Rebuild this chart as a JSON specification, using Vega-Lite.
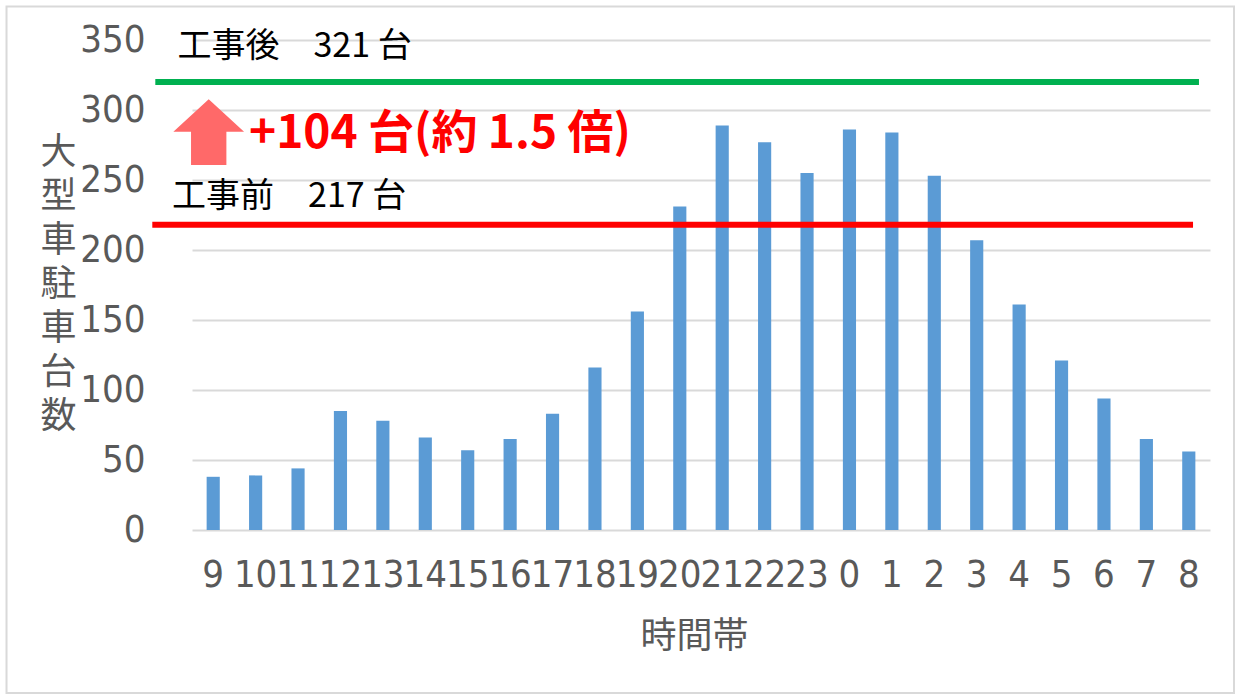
{
  "$schema": "https://vega.github.io/schema/vega-lite/v6.json",
  "width": 1018,
  "height": 490,
  "autosize": {"type": "none"},
  "padding": {"left": 192, "top": 40, "right": 33, "bottom": 170},
  "background": "#FFFFFF",
  "config": {"view": {"stroke": null}},
  "datasets": {
    "bars": [
      {"hour": "9", "count": 38},
      {"hour": "10", "count": 39},
      {"hour": "11", "count": 44},
      {"hour": "12", "count": 85},
      {"hour": "13", "count": 78},
      {"hour": "14", "count": 66},
      {"hour": "15", "count": 57},
      {"hour": "16", "count": 65},
      {"hour": "17", "count": 83},
      {"hour": "18", "count": 116},
      {"hour": "19", "count": 156},
      {"hour": "20", "count": 231},
      {"hour": "21", "count": 289},
      {"hour": "22", "count": 277},
      {"hour": "23", "count": 255},
      {"hour": "0", "count": 286},
      {"hour": "1", "count": 284},
      {"hour": "2", "count": 253},
      {"hour": "3", "count": 207},
      {"hour": "4", "count": 161},
      {"hour": "5", "count": 121},
      {"hour": "6", "count": 94},
      {"hour": "7", "count": 65},
      {"hour": "8", "count": 56}
    ],
    "levels": [
      {"period": "工事後", "value": 320, "from": -1.365, "to": 23.24},
      {"period": "工事前", "value": 218, "from": -1.436, "to": 23.1}
    ],
    "notes": [
      {"text": "工事後　321 台", "slot": -0.842, "value": 345},
      {"text": "工事前　217 台", "slot": -0.971, "value": 238}
    ],
    "change": [
      {"text": "+104 台(約 1.5 倍)", "slot": 0.844, "value": 283}
    ],
    "arrow": [
      {"slot": -0.106, "value": 284.2}
    ],
    "frame": [
      {"from": -4.873, "to": 24.066, "top": 374, "bottom": -116.4}
    ]
  },
  "layer": [
    {
      "data": {"name": "frame"},
      "mark": {"type": "rect", "fill": null, "stroke": "#D9D9D9", "strokeWidth": 2},
      "encoding": {
        "x": {"field": "from", "type": "quantitative", "scale": {"domain": [-0.5, 23.5], "nice": false, "zero": false}, "axis": null},
        "x2": {"field": "to"},
        "y": {"field": "top", "type": "quantitative", "scale": {"domain": [0, 350], "nice": false}, "axis": null},
        "y2": {"field": "bottom"}
      }
    },
    {
      "data": {"name": "bars"},
      "mark": {"type": "bar", "color": "#5B9BD5"},
      "encoding": {
        "x": {
          "field": "hour",
          "type": "ordinal",
          "sort": null,
          "scale": {"paddingInner": 0.69, "paddingOuter": 0.345},
          "axis": {
            "title": "時間帯",
            "labelAngle": 0,
            "ticks": false,
            "domain": false,
            "labelOverlap": false,
            "labelBound": false,
            "labelFlush": false,
            "labelFont": "DejaVu Sans Condensed",
            "labelFontSize": 38,
            "labelColor": "#595959",
            "labelBaseline": "middle",
            "labelPadding": 45,
            "titleFont": "Noto Sans CJK JP",
            "titleFontSize": 36,
            "titleFontWeight": "normal",
            "titleColor": "#595959",
            "titleX": 502,
            "titleY": 106,
            "titleAlign": "center",
            "titleBaseline": "middle"
          }
        },
        "y": {
          "field": "count",
          "type": "quantitative",
          "scale": {"domain": [0, 350], "nice": false},
          "axis": {
            "title": ["大", "型", "車", "駐", "車", "台", "数"],
            "titleAngle": 0,
            "values": [0, 50, 100, 150, 200, 250, 300, 350],
            "grid": true,
            "gridColor": "#D9D9D9",
            "gridWidth": 2,
            "domain": false,
            "ticks": false,
            "labelFont": "DejaVu Sans Condensed",
            "labelFontSize": 38,
            "labelColor": "#595959",
            "labelPadding": 47,
            "titleFont": "Noto Sans CJK JP",
            "titleFontSize": 36,
            "titleFontWeight": "normal",
            "titleColor": "#595959",
            "titleLineHeight": 44,
            "titleX": -134,
            "titleY": 112,
            "titleAlign": "center",
            "titleBaseline": "middle"
          }
        }
      }
    },
    {
      "data": {"name": "levels"},
      "mark": {"type": "rule", "strokeWidth": 6},
      "encoding": {
        "x": {"field": "from", "type": "quantitative", "scale": {"domain": [-0.5, 23.5], "nice": false, "zero": false}, "axis": null},
        "x2": {"field": "to"},
        "y": {"field": "value", "type": "quantitative", "scale": {"domain": [0, 350], "nice": false}, "axis": null},
        "color": {"field": "period", "type": "nominal", "scale": {"domain": ["工事後", "工事前"], "range": ["#00B050", "#FF0000"]}, "legend": null}
      }
    },
    {
      "data": {"name": "arrow"},
      "mark": {
        "type": "point",
        "shape": "M0,-0.93L1,-0.013L0.5,-0.013L0.5,0.93L-0.5,0.93L-0.5,-0.013L-1,-0.013Z",
        "size": 5000,
        "filled": true,
        "color": "#FF6969",
        "opacity": 1
      },
      "encoding": {
        "x": {"field": "slot", "type": "quantitative", "scale": {"domain": [-0.5, 23.5], "nice": false, "zero": false}, "axis": null},
        "y": {"field": "value", "type": "quantitative", "scale": {"domain": [0, 350], "nice": false}, "axis": null}
      }
    },
    {
      "data": {"name": "notes"},
      "mark": {"type": "text", "align": "left", "baseline": "middle", "font": "Noto Sans CJK JP", "fontSize": 34, "color": "#000000"},
      "encoding": {
        "x": {"field": "slot", "type": "quantitative", "scale": {"domain": [-0.5, 23.5], "nice": false, "zero": false}, "axis": null},
        "y": {"field": "value", "type": "quantitative", "scale": {"domain": [0, 350], "nice": false}, "axis": null},
        "text": {"field": "text"}
      }
    },
    {
      "data": {"name": "change"},
      "mark": {"type": "text", "align": "left", "baseline": "middle", "font": "Noto Sans CJK JP", "fontSize": 46, "fontWeight": "bold", "color": "#FF0000"},
      "encoding": {
        "x": {"field": "slot", "type": "quantitative", "scale": {"domain": [-0.5, 23.5], "nice": false, "zero": false}, "axis": null},
        "y": {"field": "value", "type": "quantitative", "scale": {"domain": [0, 350], "nice": false}, "axis": null},
        "text": {"field": "text"}
      }
    }
  ],
  "resolve": {
    "scale": {"x": "independent", "y": "independent", "color": "independent"},
    "axis": {"x": "independent", "y": "independent"}
  }
}
